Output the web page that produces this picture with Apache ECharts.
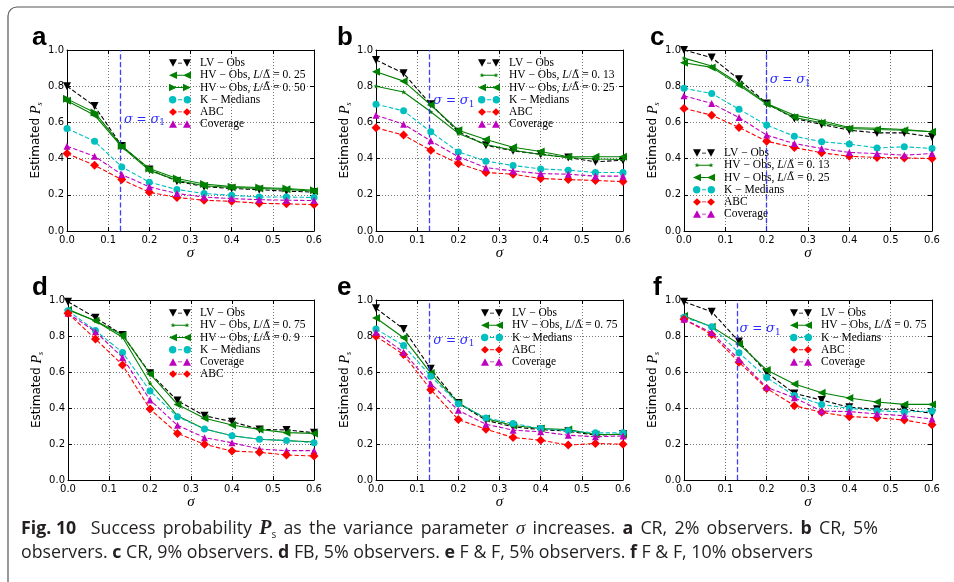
<!DOCTYPE html>
<html>
<head>
<meta charset="utf-8">
<script src="https://cdn.jsdelivr.net/npm/echarts@6/dist/echarts.min.js"></script>
<style>
html, body { margin: 0; padding: 0; background: #fff; }
#chart_1 { width: 954px; height: 582px; }
</style>
</head>
<body>
<div id="chart_1"></div>
<script>
//*************************************************************************************************data
// sigma steps (1/15) shared by every panel
var sigma = [0, 0.067, 0.133, 0.2, 0.267, 0.333, 0.4, 0.467, 0.533, 0.6];
var x_tick_labels = ['0.0', '0.1', '0.2', '0.3', '0.4', '0.5', '0.6'];
var y_tick_labels = ['0.0', '0.2', '0.4', '0.6', '0.8', '1.0'];

// a: CR, 2% observers
var a_lv    = [0.80, 0.69, 0.47, 0.34, 0.275, 0.245, 0.235, 0.228, 0.22, 0.215];
var a_hv25  = [0.72, 0.64, 0.465, 0.335, 0.28, 0.25, 0.24, 0.235, 0.23, 0.22];
var a_hv50  = [0.73, 0.655, 0.47, 0.345, 0.29, 0.26, 0.245, 0.24, 0.235, 0.225];
var a_km    = [0.566, 0.496, 0.354, 0.27, 0.229, 0.207, 0.197, 0.188, 0.188, 0.185];
var a_abc   = [0.428, 0.363, 0.284, 0.214, 0.185, 0.17, 0.164, 0.153, 0.15, 0.146];
var a_cov   = [0.468, 0.413, 0.312, 0.244, 0.207, 0.188, 0.179, 0.173, 0.17, 0.168];

// b: CR, 5% observers
var b_lv    = [0.945, 0.871, 0.70, 0.548, 0.474, 0.443, 0.424, 0.406, 0.382, 0.391];
var b_hv13  = [0.80, 0.768, 0.659, 0.539, 0.478, 0.446, 0.423, 0.406, 0.398, 0.395];
var b_hv25  = [0.88, 0.828, 0.696, 0.557, 0.505, 0.463, 0.439, 0.41, 0.41, 0.41];
var b_km    = [0.70, 0.664, 0.548, 0.437, 0.386, 0.362, 0.343, 0.336, 0.323, 0.323];
var b_abc   = [0.57, 0.53, 0.446, 0.373, 0.323, 0.314, 0.29, 0.284, 0.279, 0.273];
var b_cov   = [0.64, 0.59, 0.498, 0.41, 0.35, 0.332, 0.317, 0.314, 0.303, 0.303];

// c: CR, 9% observers
var c_lv    = [1.0, 0.958, 0.838, 0.705, 0.622, 0.589, 0.557, 0.542, 0.542, 0.52];
var c_hv13  = [0.955, 0.912, 0.815, 0.705, 0.64, 0.609, 0.572, 0.568, 0.561, 0.548];
var c_hv25  = [0.93, 0.904, 0.806, 0.701, 0.627, 0.598, 0.566, 0.561, 0.557, 0.548];
var c_km    = [0.788, 0.76, 0.673, 0.585, 0.524, 0.493, 0.48, 0.459, 0.465, 0.456];
var c_abc   = [0.677, 0.64, 0.572, 0.496, 0.461, 0.432, 0.413, 0.406, 0.404, 0.40];
var c_cov   = [0.747, 0.705, 0.627, 0.53, 0.483, 0.456, 0.434, 0.428, 0.419, 0.428];

// d: FB, 5% observers
var d_lv    = [0.99, 0.902, 0.806, 0.593, 0.441, 0.357, 0.324, 0.281, 0.278, 0.263];
var d_hv75  = [0.948, 0.883, 0.793, 0.537, 0.357, 0.283, 0.246, 0.226, 0.219, 0.211];
var d_hv90  = [0.944, 0.885, 0.806, 0.589, 0.42, 0.343, 0.306, 0.281, 0.263, 0.259];
var d_km    = [0.94, 0.83, 0.709, 0.494, 0.352, 0.283, 0.246, 0.226, 0.219, 0.207];
var d_cov   = [0.926, 0.824, 0.681, 0.444, 0.304, 0.235, 0.207, 0.172, 0.163, 0.163];
var d_abc   = [0.926, 0.783, 0.639, 0.394, 0.259, 0.198, 0.161, 0.154, 0.139, 0.133];

// e: F & F, 5% observers
var e_lv    = [0.954, 0.839, 0.618, 0.428, 0.332, 0.295, 0.28, 0.271, 0.249, 0.255];
var e_hv75  = [0.90, 0.79, 0.594, 0.428, 0.341, 0.303, 0.286, 0.28, 0.253, 0.253];
var e_km    = [0.839, 0.747, 0.577, 0.424, 0.345, 0.314, 0.286, 0.273, 0.262, 0.262];
var e_abc   = [0.799, 0.697, 0.502, 0.336, 0.282, 0.236, 0.221, 0.194, 0.203, 0.199];
var e_cov   = [0.821, 0.71, 0.535, 0.387, 0.31, 0.277, 0.268, 0.249, 0.24, 0.245];

// f: F & F, 10% observers
var f_lv    = [0.99, 0.935, 0.769, 0.596, 0.481, 0.444, 0.404, 0.393, 0.393, 0.37];
var f_hv75  = [0.911, 0.852, 0.756, 0.611, 0.533, 0.485, 0.456, 0.433, 0.42, 0.42];
var f_km    = [0.904, 0.852, 0.707, 0.569, 0.469, 0.42, 0.398, 0.385, 0.378, 0.383];
var f_abc   = [0.893, 0.809, 0.654, 0.509, 0.413, 0.376, 0.352, 0.346, 0.333, 0.307];
var f_cov   = [0.893, 0.819, 0.67, 0.515, 0.457, 0.383, 0.38, 0.367, 0.357, 0.339];

// sigma = sigma_1 marker line and where its label sits [x, y]
var sigma1_x     = { a: 0.13, b: 0.13, c: 0.2, e: 0.13, f: 0.13 };
var sigma1_label = { a: [0.137, 0.616], b: [0.138, 0.72], c: [0.206, 0.834], e: [0.138, 0.775], f: [0.133, 0.839] };

var caption_1 = '{b|Fig. 10}  Success probability {p|P}{s|s} as the variance parameter {i|\u03c3} increases. {b|a} CR, 2% observers. {b|b} CR, 5%';
var caption_2 = 'observers. {b|c} CR, 9% observers. {b|d} FB, 5% observers. {b|e} F & F, 5% observers. {b|f} F & F, 10% observers';

//*************************************************************************************************styles
var STAR = 'path://M0,-10L2.35,-3.24L9.51,-3.09L3.8,1.24L5.88,8.09L0,4L-5.88,8.09L-3.8,1.24L-9.51,-3.09L-2.35,-3.24Z';
var GREEN = '#008000';
var styles = {
    lv:  { color: '#000000', symbol: 'triangle', rotate: 180, size: 8, type: 'dashed', mark: 'down' },
    hvL: { color: GREEN, symbol: 'triangle', rotate: 90, size: 8, type: 'solid', mark: 'left' },
    hvR: { color: GREEN, symbol: 'triangle', rotate: -90, size: 8, type: 'solid', mark: 'right' },
    hvS: { color: GREEN, symbol: STAR, rotate: 0, size: 5, type: 'solid', mark: 'star' },
    km:  { color: '#00bfbf', symbol: 'circle', rotate: 0, size: 7, type: 'dashed', mark: 'circle' },
    abc: { color: '#ff0000', symbol: 'diamond', rotate: 0, size: 9, type: 'dashed', mark: 'diamond' },
    cov: { color: '#bf00bf', symbol: 'triangle', rotate: 0, size: 7, type: 'dashed', mark: 'up' }
};

// legend icon like matplotlib: a marker at each end of a short line (22 x 8 box)
// every sub-path is wound clockwise so overlaps do not punch holes
function marker_path(kind, cx) {
    var l = cx - 4, r = cx + 4;
    switch (kind) {
        case 'down':    return 'M' + l + ',0L' + r + ',0L' + cx + ',8Z';
        case 'up':      return 'M' + l + ',8L' + cx + ',0L' + r + ',8Z';
        case 'left':    return 'M' + r + ',0L' + r + ',8L' + l + ',4Z';
        case 'right':   return 'M' + l + ',0L' + r + ',4L' + l + ',8Z';
        case 'diamond': return 'M' + cx + ',0L' + r + ',4L' + cx + ',8L' + l + ',4Z';
        case 'circle':  return 'M' + (cx - 3.5) + ',4A3.5,3.5,0,1,1,' + (cx + 3.5) + ',4A3.5,3.5,0,1,1,' + (cx - 3.5) + ',4Z';
        case 'star':
            var pts = [];
            for (var k = 0; k < 10; k++) {
                var rad = (k % 2 === 0) ? 2.6 : 1.1;
                var ang = -Math.PI / 2 + k * Math.PI / 5;
                pts.push((cx + rad * Math.cos(ang)).toFixed(2) + ',' + (4 + rad * Math.sin(ang)).toFixed(2));
            }
            return 'M' + pts.join('L') + 'Z';
    }
}
function legend_icon(st) {
    var line = st.type === 'solid' ? 'M4,3.5L18,3.5L18,4.5L4,4.5Z' : 'M9,3.5L13,3.5L13,4.5L9,4.5Z';
    // keep the bounding box at 0..22 x 0..8 even for small markers
    var frame = st.mark === 'star' ? 'M0,0L0.01,0L0.01,0.01ZM21.99,7.99L22,7.99L22,8Z' : '';
    return 'path://' + frame + line + marker_path(st.mark, 4) + marker_path(st.mark, 18);
}

function hv_text(v) { return 'HV \u2212 Obs, {i|L}/{d|\u0394\u0303} = ' + v; }

// panel layout: plot box [left, top, width, height], letter [left, baseline], legend [left, top]
var panels = [
    { id: 'a', box: [67, 50, 247, 181], letter: [32, 51], legend: [169, 57], lines: [
        ['lv', a_lv, 'LV \u2212 Obs'], ['hvL', a_hv25, hv_text('0. 25')], ['hvR', a_hv50, hv_text('0. 50')],
        ['km', a_km, 'K \u2212 Medians'], ['abc', a_abc, 'ABC'], ['cov', a_cov, 'Coverage']] },
    { id: 'b', box: [376, 50, 247, 181], letter: [337, 51], legend: [478, 57], lines: [
        ['lv', b_lv, 'LV \u2212 Obs'], ['hvS', b_hv13, hv_text('0. 13')], ['hvL', b_hv25, hv_text('0. 25')],
        ['km', b_km, 'K \u2212 Medians'], ['abc', b_abc, 'ABC'], ['cov', b_cov, 'Coverage']] },
    { id: 'c', box: [684, 50, 248, 181], letter: [650, 51], legend: [693, 147], lines: [
        ['lv', c_lv, 'LV \u2212 Obs'], ['hvS', c_hv13, hv_text('0. 13')], ['hvL', c_hv25, hv_text('0. 25')],
        ['km', c_km, 'K \u2212 Medians'], ['abc', c_abc, 'ABC'], ['cov', c_cov, 'Coverage']] },
    { id: 'd', box: [68, 300, 246, 180], letter: [32, 301], legend: [169, 307], lines: [
        ['lv', d_lv, 'LV \u2212 Obs'], ['hvS', d_hv75, hv_text('0. 75')], ['hvL', d_hv90, hv_text('0. 9')],
        ['km', d_km, 'K \u2212 Medians'], ['cov', d_cov, 'Coverage'], ['abc', d_abc, 'ABC']] },
    { id: 'e', box: [376, 300, 247, 180], letter: [337, 301], legend: [481, 307], lines: [
        ['lv', e_lv, 'LV \u2212 Obs'], ['hvL', e_hv75, hv_text('0. 75')],
        ['km', e_km, 'K \u2212 Medians'], ['abc', e_abc, 'ABC'], ['cov', e_cov, 'Coverage']] },
    { id: 'f', box: [684, 300, 248, 180], letter: [653, 301], legend: [790, 307], lines: [
        ['lv', f_lv, 'LV \u2212 Obs'], ['hvL', f_hv75, hv_text('0. 75')],
        ['km', f_km, 'K \u2212 Medians'], ['abc', f_abc, 'ABC'], ['cov', f_cov, 'Coverage']] }
];

//*************************************************************************************************option
var grids = [], xAxes = [], yAxes = [], series = [], legends = [], graphics = [];
var legend_text = {};
var BLUE = '#2a2aff';

panels.forEach(function (p, i) {
    grids.push({ left: p.box[0], top: p.box[1], width: p.box[2], height: p.box[3] });

    var line_axis = { show: true, onZero: false, lineStyle: { color: '#000', width: 1 } };
    var tick = { show: true, inside: true, length: 4, lineStyle: { color: '#000' } };
    // bottom x
    xAxes.push({
        gridIndex: i, type: 'value', min: 0, max: 0.6, interval: 0.1, position: 'bottom',
        axisLine: line_axis, axisTick: tick,
        axisLabel: { color: '#000', fontSize: 10, fontFamily: 'DejaVu Sans', margin: 4,
            formatter: function (v) { return x_tick_labels[Math.round(v * 10)]; } },
        splitLine: { show: true, lineStyle: { color: '#777', type: [1, 2], width: 1 } },
        name: '\u03c3', nameLocation: 'middle', nameGap: 4,
        nameTextStyle: { fontFamily: 'Liberation Serif', fontStyle: 'italic', fontSize: 15, color: '#000' }
    });
    // top x (ticks only)
    xAxes.push({
        gridIndex: i, type: 'value', min: 0, max: 0.6, interval: 0.1, position: 'top',
        axisLine: line_axis, axisTick: tick, axisLabel: { show: false }, splitLine: { show: false }
    });
    // left y
    yAxes.push({
        gridIndex: i, type: 'value', min: 0, max: 1, interval: 0.2, position: 'left',
        axisLine: line_axis, axisTick: tick,
        axisLabel: { color: '#000', fontSize: 10, fontFamily: 'DejaVu Sans', margin: 3,
            formatter: function (v) { return y_tick_labels[Math.round(v * 5)]; } },
        splitLine: { show: true, lineStyle: { color: '#777', type: [1, 2], width: 1 } },
        name: 'Estimated {p|P}{s|s}', nameLocation: 'middle', nameGap: 18,
        nameTextStyle: { fontFamily: 'DejaVu Sans', fontSize: 12, color: '#000',
            rich: {
                p: { fontFamily: 'Liberation Serif', fontStyle: 'italic', fontSize: 14, color: '#000', lineHeight: 16 },
                s: { fontFamily: 'Liberation Serif', fontStyle: 'italic', fontSize: 8, color: '#000', verticalAlign: 'bottom', lineHeight: 10 }
            } }
    });
    // right y (ticks only)
    yAxes.push({
        gridIndex: i, type: 'value', min: 0, max: 1, interval: 0.2, position: 'right',
        axisLine: line_axis, axisTick: tick, axisLabel: { show: false }, splitLine: { show: false }
    });

    var items = [];
    p.lines.forEach(function (l, k) {
        var st = styles[l[0]];
        var name = p.id + '_' + k;
        items.push({ name: name, icon: legend_icon(st) });
        legend_text[name] = l[2];
        series.push({
            type: 'line', name: name, xAxisIndex: 2 * i, yAxisIndex: 2 * i,
            data: sigma.map(function (x, j) { return [x, l[1][j]]; }),
            symbol: st.symbol, symbolSize: st.size, symbolRotate: st.rotate,
            itemStyle: { color: st.color, borderWidth: 0 },
            lineStyle: { color: st.color, width: 1.1, type: st.type },
            z: 3 + k, silent: true
        });
    });

    // sigma = sigma_1 line + label
    if (sigma1_x[p.id] !== undefined) {
        series.push({
            type: 'scatter', name: p.id + '_s1', xAxisIndex: 2 * i, yAxisIndex: 2 * i,
            data: [sigma1_label[p.id]], symbolSize: 1,
            itemStyle: { color: 'rgba(255,255,255,0)', opacity: 1 }, silent: true, z: 2,
            label: {
                show: true, position: 'right', distance: 0, color: BLUE, opacity: 1,
                formatter: '{i|\u03c3} = {i|\u03c3}{s|1}',
                fontFamily: 'DejaVu Serif', fontSize: 12,
                rich: {
                    i: { fontFamily: 'DejaVu Serif', fontStyle: 'italic', fontSize: 13, color: BLUE, lineHeight: 16 },
                    s: { fontFamily: 'DejaVu Serif', fontSize: 9, color: BLUE, verticalAlign: 'bottom', lineHeight: 10 }
                }
            },
            labelLayout: { hideOverlap: false },
            markLine: {
                silent: true, symbol: 'none', animation: false,
                label: { show: false },
                lineStyle: { color: BLUE, type: 'dashed', width: 1.3, opacity: 0.9 },
                data: [{ xAxis: sigma1_x[p.id] }]
            }
        });
    }

    legends.push({
        orient: 'vertical', left: p.legend[0], top: p.legend[1], padding: 0,
        itemWidth: 22, itemHeight: 7.5, itemGap: 0, selectedMode: false,
        symbolRotate: 0, symbolKeepAspect: false,
        itemStyle: { borderWidth: 0 },
        data: items,
        formatter: function (n) { return legend_text[n]; },
        textStyle: { fontFamily: 'Liberation Serif', fontSize: 11.5, lineHeight: 12.2, color: '#000',
            padding: [0, 0, 0, 4],
            rich: {
                i: { fontFamily: 'Liberation Serif', fontStyle: 'italic', fontSize: 11.5, lineHeight: 12.2, color: '#000' },
                d: { fontFamily: 'DejaVu Serif', fontSize: 10.5, lineHeight: 12.2, color: '#000' }
            } }
    });

    graphics.push({
        type: 'text', left: p.letter[0], top: p.letter[1] - 26,
        style: { text: p.id, font: 'bold 26px "Liberation Sans"', fill: '#000' }
    });
});

// figure frame
graphics.push({
    type: 'rect', shape: { x: 8, y: 7, width: 960, height: 590, r: 9 },
    style: { fill: 'none', stroke: '#555', lineWidth: 1.2 }, z: -1
});

// caption: line 1 is justified, so its word gaps are widened
var cap_rich = {
    b: { fontFamily: 'Open Sans', fontWeight: 'bold', fontSize: 17.8, fill: '#231f20', lineHeight: 22 },
    p: { fontFamily: 'Liberation Serif', fontWeight: 'bold', fontStyle: 'italic', fontSize: 20, fill: '#231f20', lineHeight: 22 },
    s: { fontFamily: 'Open Sans', fontSize: 10, fill: '#231f20', verticalAlign: 'bottom', lineHeight: 16 },
    i: { fontFamily: 'Liberation Serif', fontStyle: 'italic', fontSize: 19, fill: '#231f20', lineHeight: 22 },
    w: { fontFamily: 'Open Sans', fontSize: 28, lineHeight: 22 }
};
graphics.push({
    type: 'text', left: 21, top: 515,
    style: { text: caption_1.replace(/ (?![^{]*\})/g, '{w| }'), font: '17.8px "Open Sans"', fill: '#231f20', rich: cap_rich }
});
graphics.push({
    type: 'text', left: 21, top: 544,
    style: { text: caption_2, font: '17.8px "Open Sans"', fill: '#231f20', rich: cap_rich }
});

var option = {
    animation: false,
    backgroundColor: '#fff',
    grid: grids,
    xAxis: xAxes,
    yAxis: yAxes,
    legend: legends,
    series: series,
    graphic: graphics
};

var chart_1 = echarts.init(document.getElementById('chart_1'));
chart_1.setOption(option);
</script>
</body>
</html>
